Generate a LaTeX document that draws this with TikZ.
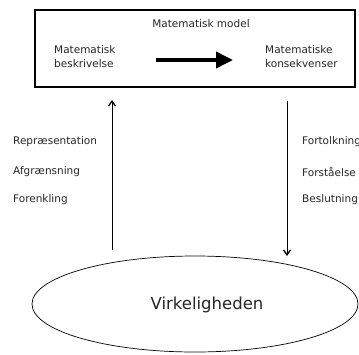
\documentclass[tikz,border=0pt]{standalone}
\usepackage{fontspec}
\setmainfont{DejaVu Sans}
\usetikzlibrary{arrows.meta,shapes.geometric}
\begin{document}
\begin{tikzpicture}[x=1pt,y=-1pt,
  lbl/.style={font=\fontsize{10.5}{12}\selectfont, inner sep=0pt, anchor=west, text=black!85},
  lbltwo/.style={lbl, align=left, font=\fontsize{10.5}{14}\selectfont},
  thinarrow/.style={line width=1pt, -{Straight Barb[length=5pt,width=7pt,line width=1.3pt]}},
  bigarrow/.style={line width=3.6pt, -{Triangle[length=17pt,width=16pt]}}]
\useasboundingbox (0,0) rectangle (359,354);
% model box
\node[draw, line width=1.8pt, minimum width=320pt, minimum height=77pt, inner sep=0pt] (box) at (195,48.5) {};
\node[lbl, anchor=center] (title) at (201,24) {Matematisk model};
\node[lbltwo] (desc) at (54,57) {Matematisk\\beskrivelse};
\node[lbltwo] (cons) at (265,57) {Matematiske\\konsekvenser};
\coordinate (hs) at (156,60);
\coordinate (he) at (233,60);
\draw[bigarrow] (hs) -- (he);
% reality ellipse
\node[draw, ellipse, line width=0.7pt, minimum width=326pt, minimum height=96pt, inner sep=0pt] (real) at (195,304) {};
\node[font=\fontsize{16.5}{20}\selectfont, inner sep=0pt, text=black!85] (realtxt) at (207,305) {Virkeligheden};
% arrows
\coordinate (ls) at (112,250);
\coordinate (le) at (112,100);
\draw[thinarrow] (ls) -- (le);
\coordinate (rs) at (287,101);
\coordinate (re) at (287,256);
\draw[thinarrow] (rs) -- (re);
% labels
\node[lbl] (l1) at (13,142) {Repræsentation};
\node[lbl] (l2) at (13,172) {Afgrænsning};
\node[lbl] (l3) at (13,200) {Forenkling};
\node[lbl] (r1) at (302,142) {Fortolkning};
\node[lbl] (r2) at (302,172) {Forståelse};
\node[lbl] (r3) at (302,200) {Beslutning};
\end{tikzpicture}
\end{document}
